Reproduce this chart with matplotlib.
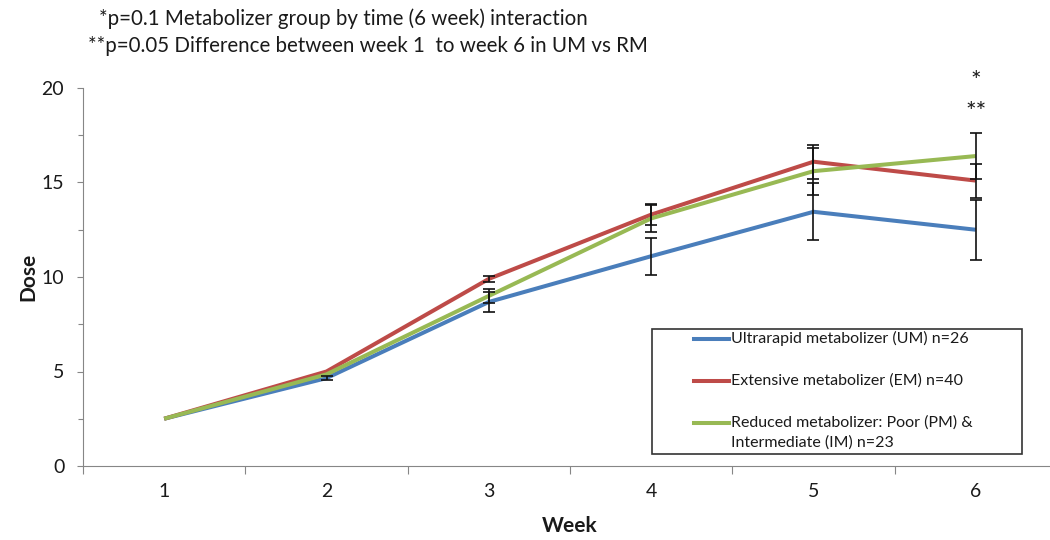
import matplotlib
matplotlib.use("Agg")
import matplotlib.pyplot as plt
import numpy as np
from matplotlib.lines import Line2D
from matplotlib.patches import Rectangle

weeks = [1, 2, 3, 4, 5, 6]
week_labels = ["1", "2", "3", "4", "5", "6"]

series_names = [
    "Ultrarapid metabolizer (UM) n=26",
    "Extensive metabolizer (EM) n=40",
    "Reduced metabolizer: Poor (PM) &\nIntermediate (IM) n=23",
]
um_dose = [2.5, 4.65, 8.68, 11.1, 13.45, 12.5]
em_dose = [2.5, 5.0, 9.9, 13.3, 16.1, 15.1]
rm_dose = [2.5, 4.85, 9.0, 13.1, 15.6, 16.4]
um_err = [0, 0.1, 0.55, 0.97, 1.5, 1.6]
em_err = [0, 0, 0.15, 0.55, 0.9, 0.9]
rm_err = [0, 0, 0.35, 0.7, 1.25, 1.2]
colors = ["#4A7EBB", "#BE4B48", "#98B954"]

note1 = "*p=0.1 Metabolizer group by time (6 week) interaction"
note2 = "**p=0.05 Difference between week 1  to week 6 in UM vs RM"

FONT = ["Lato", "DejaVu Sans"]
plt.rcParams['font.family'] = FONT
TXT = "#1a1a1a"
AX = "#868686"

W, H = 1050, 540
fig = plt.figure(figsize=(W / 100, H / 100), dpi=100)
ax = fig.add_axes([83 / W, (H - 466) / H, 974 / W, 378 / H])

doses = [um_dose, em_dose, rm_dose]
errs = [um_err, em_err, rm_err]
x = np.array(weeks, dtype=float)
for d, c in zip(doses, colors):
    ax.plot(x, d, color=c, lw=2.9, solid_capstyle='butt', zorder=3)
for d, e in zip(doses, errs):
    d = np.array(d); e = np.array(e)
    m = e > 0
    ax.errorbar(x[m], d[m], yerr=e[m], fmt='none', ecolor='#111111',
                elinewidth=1.2, capsize=4, capthick=1.2, zorder=4)

ax.set_xlim(0.5, 6.5)
ax.set_ylim(0, 20)
ax.set_yticks([0, 5, 10, 15, 20])
ax.set_yticks([2.5, 7.5, 12.5, 17.5], minor=True)
ax.set_xticks(np.arange(0.5, 7.0, 1.0))
ax.set_xticklabels([])
ax.set_xticks(weeks, minor=True)
ax.set_xticklabels(week_labels, minor=True)
ax.tick_params(axis='y', which='major', length=4.5, width=0.8, color=AX,
               labelsize=14, labelcolor=TXT, pad=9)
ax.tick_params(axis='y', which='minor', length=3.5, width=0.8, color=AX)
ax.tick_params(axis='x', which='major', length=5.5, width=0.8, color=AX)
ax.tick_params(axis='x', which='minor', length=0, labelsize=14,
               labelcolor=TXT, pad=12)
for s in ['top', 'right']:
    ax.spines[s].set_visible(False)
for s in ['left', 'bottom']:
    ax.spines[s].set_color(AX)
    ax.spines[s].set_linewidth(0.8)

ax.set_ylabel("Dose", fontsize=15, fontweight='bold', color=TXT)
ax.yaxis.label.set_va('center')
ax.yaxis.set_label_coords((28 - 83) / 974, 0.5)
ax.set_xlabel("Week", fontsize=15, fontweight='bold', color=TXT)
ax.xaxis.label.set_va('center')
ax.xaxis.set_label_coords(0.5, -(526 - 466) / 378)

ax.text(6, 20.35, "*", ha='center', va='center', fontsize=18, color=TXT)
ax.text(6, 18.7, "**", ha='center', va='center', fontsize=18, color=TXT)

fig.text(99 / W, 1 - 19 / H, note1, ha='left', va='center', fontsize=14.8, color=TXT)
fig.text(88 / W, 1 - 46 / H, note2, ha='left', va='center', fontsize=14.8, color=TXT)

# legend box
fig.patches.append(Rectangle((652 / W, 1 - 454 / H), 370 / W, 125 / H,
                             transform=fig.transFigure, fill=False,
                             edgecolor='#333333', lw=1.2))
ys = [339, 381, 423]
for name, c, yy in zip(series_names, colors, ys):
    fig.add_artist(Line2D([694 / W, 729 / W], [1 - yy / H, 1 - yy / H],
                          transform=fig.transFigure, color=c, lw=2.9))
    fig.text(731 / W, 1 - (yy - 8) / H, name, ha='left', va='top',
             fontsize=11.5, color=TXT, linespacing=1.5)

fig.savefig("out.png", dpi=100)
